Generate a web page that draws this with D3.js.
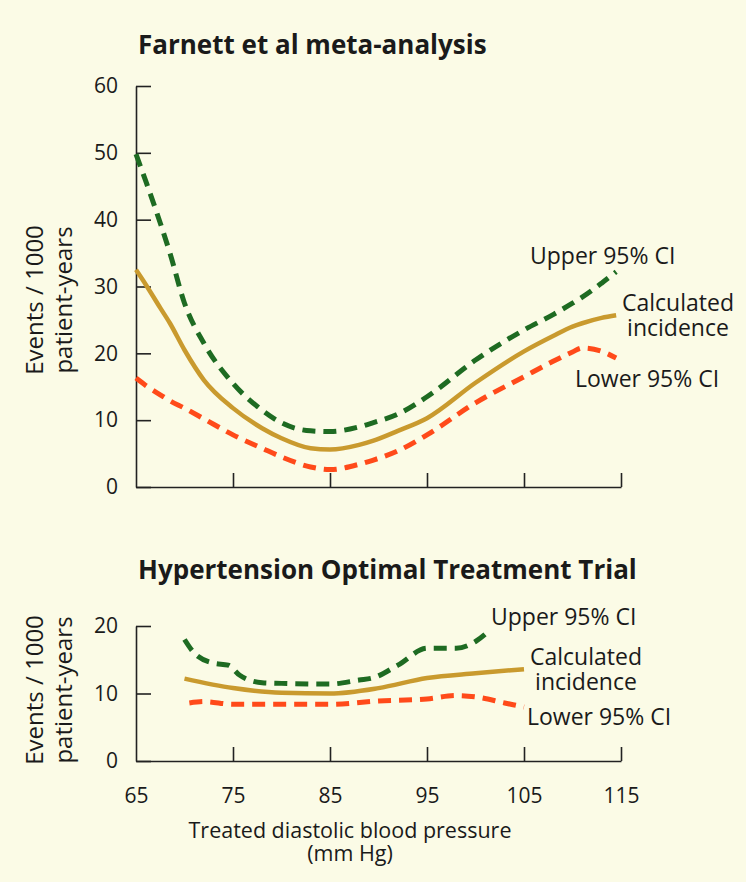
<!DOCTYPE html>
<html>
<head>
<meta charset="utf-8">
<script src="https://cdn.jsdelivr.net/npm/d3@7"></script>
<style>
  body { margin: 0; background: #fbfbe6; }
  svg { display: block; }
  text { font-family: "Open Sans", "Noto Sans", sans-serif; fill: #1a1a1a; }
</style>
</head>
<body>
<div id="chart"></div>
<script>
// values (x = treated diastolic BP, y = events / 1000 patient-years)
const farnettX     = [65, 66, 67.5, 68.5, 70, 72, 75, 78, 80, 83, 85, 88, 89.4, 92, 95, 100, 105, 108, 110, 111, 113, 114.5];
const farnettCalc  = [32.5, 30.3, 26.8, 24.5, 20.5, 16, 11.8, 8.8, 7.3, 5.8, 5.6, 6.3, 6.9, 8.4, 10.3, 15.6, 20.3, 22.6, 24, 24.5, 25.3, 25.7];
const farnettUpper = [49.8, 45.8, 39.5, 35, 27.5, 21.5, 15.5, 11.5, 9.6, 8.4, 8.3, 9.0, 9.6, 10.9, 13.5, 19, 23.5, 25.8, 27.5, 28.4, 30.5, 32.2];
const farnettLower = [16.3, 15.2, 13.8, 12.9, 11.8, 10.2, 7.8, 5.8, 4.5, 3.0, 2.6, 3.4, 4.0, 5.4, 7.8, 12.6, 16.5, 18.8, 20.2, 20.8, 20.3, 19.3];

const hotUpperX = [70, 71, 73, 74.5, 75.7, 78, 80, 85, 88, 89.4, 92, 95, 98, 100, 101.5];
const hotUpper  = [18.0, 16, 14.5, 14.2, 12.7, 11.6, 11.5, 11.4, 12.0, 12.3, 14.2, 16.7, 16.7, 17.7, 19.4];
const hotCalcX  = [70, 75, 80, 85, 90, 95, 100, 105];
const hotCalc   = [12.2, 10.8, 10.1, 10.0, 10.8, 12.3, 13.0, 13.6];
const hotLowerX = [70.5, 72, 75, 80, 85, 90, 95, 98, 100, 103, 105];
const hotLower  = [8.6, 8.8, 8.4, 8.4, 8.4, 8.9, 9.2, 9.7, 9.5, 8.6, 8.0];

const xTicks = [65, 75, 85, 95, 105, 115];
const farnettYTicks = [0, 10, 20, 30, 40, 50, 60];
const hotYTicks = [0, 10, 20];

const colors = {upper: "#1e6b22", calc: "#c99a2e", lower: "#ff4a1a"};

const width = 746, height = 882;

const svg = d3.select("#chart")
    .append("svg")
    .attr("width", width)
    .attr("height", height);

const x = d3.scaleLinear().domain([65, 115]).range([136, 621]);

const line = (yScale) => d3.line()
    .x(d => x(d[0]))
    .y(d => yScale(d[1]))
    .curve(d3.curveMonotoneX);

function panel(cfg) {
    const y = d3.scaleLinear().domain(cfg.domain).range(cfg.range);
    const g = svg.append("g");

    // y axis
    const yAxis = g.append("g")
        .attr("transform", `translate(${x(65)},0)`)
        .call(d3.axisLeft(y).tickValues(cfg.yTicks).tickSize(-15).tickSizeOuter(0).tickPadding(18));

    // x axis
    const xAxis = g.append("g")
        .attr("transform", `translate(0,${y(0)})`)
        .call(d3.axisBottom(x).tickValues(xTicks).tickSize(-14).tickSizeOuter(0).tickPadding(27)
            .tickFormat(cfg.xLabels ? d3.format("d") : ""));

    [yAxis, xAxis].forEach(a => {
        a.selectAll("path, line").attr("stroke", "#222").attr("stroke-width", 1.6);
        a.selectAll("text").style("font-size", "21px").attr("fill", "#1a1a1a");
    });
    xAxis.selectAll(".tick").filter(d => d === 65).select("line").remove();

    const series = [
        {key: "upper", data: d3.zip(cfg.upperX, cfg.upper), dash: "13,8", w: 5},
        {key: "lower", data: d3.zip(cfg.lowerX, cfg.lower), dash: "13,8", w: 5},
        {key: "calc", data: d3.zip(cfg.calcX, cfg.calc), dash: null, w: 4.5}
    ];

    g.selectAll("path.series")
        .data(series)
        .enter()
        .append("path")
        .attr("class", "series")
        .attr("fill", "none")
        .attr("stroke", d => colors[d.key])
        .attr("stroke-width", d => d.w)
        .attr("stroke-dasharray", d => d.dash)
        .attr("d", d => line(y)(d.data));

    // title
    g.append("text")
        .attr("x", 138)
        .attr("y", cfg.titleY)
        .style("font-size", "26px")
        .style("font-weight", "bold")
        .text(cfg.title);

    // y label
    const yl = g.append("text")
        .attr("transform", `translate(43,${cfg.yLabelY}) rotate(-90)`)
        .attr("text-anchor", "middle")
        .style("font-size", "24px");
    yl.append("tspan").attr("x", 0).attr("y", 0).text("Events / 1000");
    yl.append("tspan").attr("x", 0).attr("y", 29).text("patient-years");

    // series labels
    cfg.labels.forEach(l => {
        const t = g.append("text")
            .attr("x", l.x)
            .attr("y", l.y)
            .attr("text-anchor", l.anchor || "start")
            .style("font-size", "23px");
        l.lines.forEach((s, i) => t.append("tspan").attr("x", l.x).attr("dy", i ? 24.5 : 0).text(s));
    });
}

panel({
    title: "Farnett et al meta-analysis",
    titleY: 54,
    domain: [0, 60],
    range: [487, 86],
    yTicks: farnettYTicks,
    xLabels: false,
    upperX: farnettX, upper: farnettUpper,
    calcX: farnettX, calc: farnettCalc,
    lowerX: farnettX, lower: farnettLower,
    yLabelY: 300,
    labels: [
        {x: 530, y: 264, lines: ["Upper 95% CI"]},
        {x: 678, y: 311, lines: ["Calculated", "incidence"], anchor: "middle"},
        {x: 575, y: 387, lines: ["Lower 95% CI"]}
    ]
});

panel({
    title: "Hypertension Optimal Treatment Trial",
    titleY: 579,
    domain: [0, 20],
    range: [761, 626],
    yTicks: hotYTicks,
    xLabels: true,
    upperX: hotUpperX, upper: hotUpper,
    calcX: hotCalcX, calc: hotCalc,
    lowerX: hotLowerX, lower: hotLower,
    yLabelY: 690,
    labels: [
        {x: 491, y: 625, lines: ["Upper 95% CI"]},
        {x: 586, y: 665, lines: ["Calculated", "incidence"], anchor: "middle"},
        {x: 527, y: 725, lines: ["Lower 95% CI"]}
    ]
});

const xt = svg.append("text")
    .attr("text-anchor", "middle")
    .style("font-size", "21.5px");
xt.append("tspan").attr("x", 350).attr("y", 838).text("Treated diastolic blood pressure");
xt.append("tspan").attr("x", 350).attr("y", 861).text("(mm Hg)");
</script>
</body>
</html>
